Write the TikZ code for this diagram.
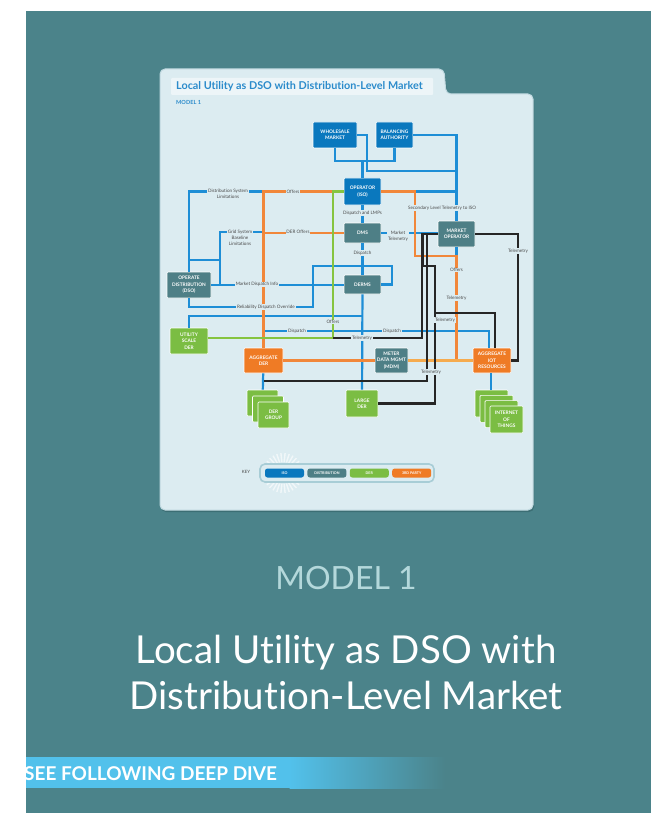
\documentclass[tikz,border=0pt]{standalone}
\usepackage{fontspec}
\newfontfamily\lato[Ligatures=NoCommon]{Lato}
\usetikzlibrary{positioning}

\definecolor{tealbg}{HTML}{4B838A}
\definecolor{panelbg}{HTML}{DCECF1}
\definecolor{paneledge}{HTML}{BFD8DF}
\definecolor{panelshade}{HTML}{3C6E74}
\definecolor{titleblue}{HTML}{2B8BCB}
\definecolor{isoblue}{HTML}{0A78BE}
\definecolor{distteal}{HTML}{4E7F86}
\definecolor{dergreen}{HTML}{7BBD43}
\definecolor{partyorange}{HTML}{EF7B25}
\definecolor{lineblue}{HTML}{1E8ED6}
\definecolor{lineorange}{HTML}{F1873A}
\definecolor{lightorange}{HTML}{F6AB4E}
\definecolor{linegreen}{HTML}{86C440}
\definecolor{lineblack}{HTML}{262626}
\definecolor{labelgrey}{HTML}{4A4A4A}
\definecolor{legendedge}{HTML}{A8CDD6}
\definecolor{modelgrey}{HTML}{B4D8DB}
\definecolor{divecyan}{HTML}{52C1EB}

\begin{document}
\begin{tikzpicture}[x=1pt, y=-1pt,
  box/.style={rounded corners=1pt, draw=white, line width=.6pt, text=white, align=center,
    inner sep=0pt, font=\lato\bfseries\fontsize{4.8}{6.4}\selectfont},
  isobox/.style={box, fill=isoblue},
  distbox/.style={box, fill=distteal},
  derbox/.style={box, fill=dergreen},
  partybox/.style={box, fill=partyorange},
  isoline/.style={draw=lineblue, line width=2.2pt},
  partyline/.style={draw=lineorange, line width=2.2pt},
  derline/.style={draw=linegreen, line width=2.2pt},
  telline/.style={draw=lineblack, line width=2.2pt},
  lbl/.style={fill=panelbg, inner sep=.8pt, text=labelgrey, align=center,
    font=\lato\fontsize{4.6}{6}\selectfont},
  keypill/.style={rounded corners=2.5pt, minimum width=39pt, minimum height=9pt,
    inner sep=0pt, text=white, font=\lato\bfseries\fontsize{3.6}{4}\selectfont}]
\useasboundingbox (0,0) rectangle (651,813);
\fill[white] (0,0) rectangle (651,813);
\fill[tealbg] (26,11) rectangle (651,813);

% card with the tab on top
\fill[panelshade, rounded corners=5pt] (161,71) -- (445,71) -- (447,96) -- (534,96) -- (534,512) -- (161,512) -- cycle;
\filldraw[fill=panelbg, draw=paneledge, line width=1pt, rounded corners=5pt]
  (160,69) -- (444,69) -- (446,94) -- (533,94) -- (533,510) -- (160,510) -- cycle;
\fill[white, opacity=.5, rounded corners=1pt] (171,78) rectangle (433,95);
\node[anchor=west, inner sep=0pt, text=titleblue, font=\lato\bfseries\fontsize{10.8}{11}\selectfont] (cardtitle) at (176,86) {Local Utility as DSO with Distribution-Level Market};
\node[anchor=west, inner sep=0pt, text=titleblue, font=\lato\bfseries\fontsize{5.6}{6}\selectfont] (cardmodel) at (176,102) {MODEL 1};

% ISO
\node[isobox, minimum width=44pt, minimum height=26pt] (wsm) at (335,135) {WHOLESALE\\MARKET};
\node[isobox, minimum width=37pt, minimum height=26pt] (bal) at (394.5,135) {BALANCING\\AUTHORITY};
\node[isobox, minimum width=37pt, minimum height=27pt] (iso) at (362.5,191.5) {OPERATOR\\(ISO)};
% distribution
\node[distbox, minimum width=37pt, minimum height=20pt] (dms) at (362.5,233) {DMS};
\node[distbox, minimum width=37pt, minimum height=26pt] (mko) at (456.5,234) {MARKET\\OPERATOR};
\node[distbox, minimum width=37pt, minimum height=19pt] (derms) at (362.5,284.5) {DERMS};
\node[distbox, minimum width=44pt, minimum height=26pt] (opd) at (189,285) {OPERATE\\DISTRIBUTION\\(DSO)};
\node[distbox, minimum width=33pt, minimum height=25pt] (mdm) at (391.5,360.5) {METER\\DATA MGMT\\(MDM)};
% DER and 3rd party
\node[derbox, minimum width=38pt, minimum height=26pt] (usd) at (189,341) {UTILITY\\SCALE\\DER};
\node[partybox, minimum width=39pt, minimum height=25pt] (agd) at (263.5,360.5) {AGGREGATE\\DER};
\node[partybox, minimum width=38pt, minimum height=25pt] (agi) at (492,360.5) {AGGREGATE\\IOT\\RESOURCES};
\node[derbox, minimum width=32pt, minimum height=27pt] (ldr) at (362,403.5) {LARGE\\DER};
\foreach \i in {0,1}
  \node[derbox, minimum width=31pt, minimum height=26pt] (dgr\i) at (262.5+5.5*\i,403+6*\i) {};
\node[derbox, minimum width=31pt, minimum height=26pt] (dgr) at (273.5,415) {DER\\GROUP};
\foreach \i in {0,1,2}
  \node[derbox, minimum width=33pt, minimum height=27pt] (iot\i) at (491.5+5*\i,403.5+5.33*\i) {};
\node[derbox, minimum width=33pt, minimum height=27pt] (iot) at (506.5,419.5) {INTERNET\\OF\\THINGS};

% ISO links
\coordinate (isoJ) at (362.5,161);
\draw[isoline] (wsm.south) |- (isoJ) -| (bal.south);
\draw[isoline] (isoJ) -- (iso.north);
\draw[isoline] (wsm.east) -| ++(10,36) -| (mko.north);
\draw[isoline] (bal.east) -| (mko.north);
\draw[isoline] (iso.east) -- (iso.east -| mko.north);
\draw[isoline] (iso) -- (dms);
\draw[isoline] (dms) -- (derms);
\draw[isoline] (dms.east) -- (dms.east -| mko.west);
\draw[isoline] (mko.south) -- ++(0,9);
\draw[isoline] (derms) -- (ldr);
\draw[isoline] (opd.east) -- (opd.east -| derms.west);
\draw[isoline] (opd.south) |- ++(124,9) |- ++(79,-41) |- (derms.east);
\coordinate (dslim) at (262,191.5);
\draw[isoline] (opd.north) |- (dslim);
\coordinate (gsbl) at (262,232);
\draw[isoline] (gsbl) -| ([xshift=9pt]opd.east);
\draw[isoline] (opd.north |- 0,260) -- ++(31,0);
\draw[isoline] (derms.south |- 0,316) -| (usd.north);
\coordinate (dispL) at (263.5,331);
\draw[isoline] (dispL) -| ([xshift=-3pt]agi.north);
\draw[isoline] (agd) -- (dgr0);
\draw[isoline] ([xshift=-1pt]agi.south) -- ([xshift=-1pt]agi.south |- iot0.north);

% offers from the aggregators
\draw[partyline] (agd.north) |- (iso.west);
\draw[partyline] (agd.north |- dms.west) -- (dms.west);
\draw[partyline] (iso.east) -| ++(34,64.5) -| (mko.south |- agi.west);
\draw[partyline] (agd) -- (mdm);
\draw[partyline, draw=lightorange] (mdm) -- (agi);

% utility scale DER
\coordinate (gC) at (333,338);
\draw[derline] ([yshift=3pt]usd.east) -- (gC) |- (iso.west);

% telemetry
\draw[telline] (gC) -| ([xshift=-16pt]mko.west) -- (mko.west);
\coordinate (tB) at (263.5,381);
\draw[telline] (tB) -| ([xshift=-11pt]mko.west);
\draw[telline] (ldr.east) -| ++(57,-137.5) -| ([xshift=-15pt]mko.west);
\coordinate (tD) at (435,313);
\draw[telline] ([xshift=3pt]agi.north) |- (tD);
\draw[telline] (agi.east) -| ([xshift=43pt]mko.east) -- (mko.east);

% line labels
\node[lbl] (l1) at (228,194) {Distribution System\\Limitations};
\node[lbl] (l2) at (293,191.5) {Offers};
\node[lbl] (l3) at (362.5,213) {Dispatch and LMPs};
\node[lbl] (l4) at (442,208) {Secondary Level Telemetry to ISO};
\node[lbl] (l5) at (240,238) {Grid System\\Baseline\\Limitations};
\node[lbl] (l6) at (298,232) {DER Offers};
\node[lbl] (l7) at (398,236) {Market\\Telemetry};
\node[lbl] (l8) at (362.5,253) {Dispatch};
\node[lbl] (l9) at (518,251) {Telemetry};
\node[lbl] (l10) at (456.5,270) {Offers};
\node[lbl] (l11) at (456.5,298) {Telemetry};
\node[lbl] (l12) at (257,284.5) {Market Dispatch Info};
\node[lbl] (l13) at (266,307) {Reliability Dispatch Override};
\node[lbl] (l14) at (333,322) {Offers};
\node[lbl] (l15) at (297,331) {Dispatch};
\node[lbl] (l16) at (392,331) {Dispatch};
\node[lbl] (l17) at (362,338) {Telemetry};
\node[lbl] (l18) at (445,320) {Telemetry};
\node[lbl] (l19) at (431,372) {Telemetry};

% key
\foreach \a in {0,12,...,348}
  \draw[white, opacity=.6, line width=1.4pt] (283,473) ++(\a:11) -- ++(\a:9);
\node[draw=legendedge, line width=1.6pt, fill=panelbg, rounded corners=5pt,
  minimum width=174pt, minimum height=18pt, inner sep=0pt] (keyframe) at (347,473) {};
\node[keypill, fill=isoblue] (kiso) at (284.5,473) {ISO};
\node[keypill, fill=distteal, right=3pt of kiso] (kdist) {DISTRIBUTION};
\node[keypill, fill=dergreen, right=3pt of kdist] (kder) {DER};
\node[keypill, fill=partyorange, right=3pt of kder] (kparty) {3RD PARTY};
\node[text=labelgrey, font=\lato\fontsize{4.4}{5}\selectfont, inner sep=0pt] (keylbl) at (246,472) {KEY};

% caption under the card
\node[text=modelgrey, inner sep=0pt, font=\lato\fontsize{32}{32}\selectfont] (mtag) at (346,578) {MODEL 1};
\node[anchor=base, text=white, inner sep=0pt, font=\lato\fontsize{38.5}{40}\selectfont] (title1) at (346,663) {Local Utility as DSO with};
\node[anchor=base, text=white, inner sep=0pt, font=\lato\fontsize{38.5}{40}\selectfont] (title2) at (346,709) {Distribution-Level Market};

% deep dive banner
\fill[divecyan] (26,757) rectangle (290,788);
\shade[left color=divecyan, right color=tealbg] (289.5,757) rectangle (445,788);
\begin{scope}
\clip (26,750) rectangle (651,800);
\node[anchor=base west, text=white, inner sep=0pt, font=\lato\bfseries\fontsize{19}{20}\selectfont] (dive) at (24,780.5) {SEE FOLLOWING DEEP DIVE};
\end{scope}
\end{tikzpicture}
\end{document}
